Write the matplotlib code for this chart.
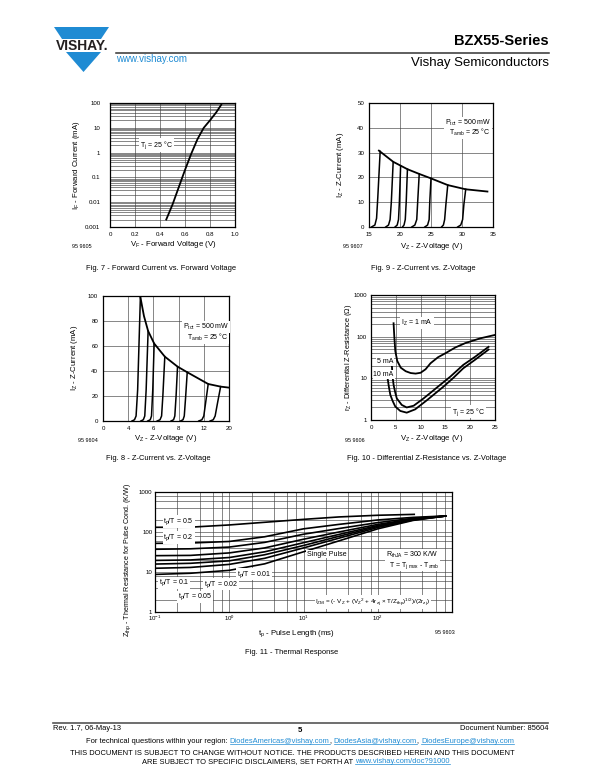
import numpy as np
import matplotlib.pyplot as plt
from matplotlib.ticker import LogLocator, NullFormatter
from matplotlib.patches import Polygon

plt.rcParams['font.family'] = ['Liberation Sans', 'DejaVu Sans']
plt.rcParams['mathtext.fontset'] = 'custom'
plt.rcParams['mathtext.rm'] = 'Liberation Sans'
plt.rcParams['mathtext.it'] = 'Liberation Sans:italic'
plt.rcParams['mathtext.bf'] = 'Liberation Sans:bold'

W, H = 600, 777
BLUE = '#1f8bd3'
TICK_FS = 4.4
LABEL_FS = 5.6
CAP_FS = 5.4

# ---------------- data ----------------
# Fig. 7 - forward current vs forward voltage
fwd_v = [0.45, 0.50, 0.55, 0.60, 0.65, 0.70, 0.75, 0.80, 0.85, 0.89]
fwd_i = [0.002, 0.008, 0.04, 0.2, 0.9, 3.5, 10, 20, 42, 85]

# Fig. 9 - Z-current vs Z-voltage (15 V .. 35 V)
z9_v = [
    [15.4, 15.95, 16.22, 16.42, 16.8],
    [17.7, 18.15, 18.4, 18.6, 18.9],
    [19.2, 19.55, 19.76, 19.9, 20.1],
    [20.4, 20.65, 20.85, 21.0, 21.2],
    [21.9, 22.4, 22.7, 22.85, 23.1],
    [24.0, 24.45, 24.7, 24.8, 25.0],
    [26.7, 27.0, 27.2, 27.4, 27.7],
    [29.3, 29.8, 30.1, 30.3, 30.6],
]
z9_i = [
    [0, 0.8, 3.5, 12, 30.5],
    [0, 0.8, 3, 10, 26.3],
    [0, 0.8, 3, 10, 24.6],
    [0, 0.8, 3, 10, 23.3],
    [0, 0.8, 3, 10, 21.4],
    [0, 0.8, 3, 10, 19.6],
    [0, 0.8, 3, 9, 16.9],
    [0, 0.8, 3, 9, 15.2],
]
z9_env_v = [16.6, 18.9, 21.2, 23.1, 25.0, 27.7, 30.6, 34.1]
z9_env_i = [30.8, 26.3, 23.3, 21.4, 19.6, 16.9, 15.2, 14.3]

# Fig. 8 - Z-current vs Z-voltage (0 .. 20 V scale)
z8_v = [
    [4.6, 5.0, 5.25, 5.5, 5.94],
    [6.0, 6.4, 6.63, 6.85, 7.16],
    [7.1, 7.5, 7.7, 7.9, 8.12],
    [8.6, 9.05, 9.3, 9.5, 9.81],
    [10.8, 11.2, 11.4, 11.6, 11.83],
    [12.3, 12.7, 12.9, 13.1, 13.37],
    [15.2, 15.7, 16.0, 16.3, 16.7],
    [17.0, 17.5, 17.8, 18.2, 18.67],
]
z8_i = [
    [0, 1, 4, 25, 100],
    [0, 1, 4, 25, 72],
    [0, 1, 4, 25, 62],
    [0, 1, 4, 20, 51.5],
    [0, 1, 4, 20, 43.5],
    [0, 1, 4, 18, 39],
    [0, 1, 4, 15, 29.6],
    [0, 1, 4, 15, 27.5],
]
z8_env_v = [5.9, 6.5, 7.16, 8.12, 9.81, 11.83, 13.37, 16.7, 18.67, 20.0]
z8_env_i = [100, 84, 72, 62, 51.5, 43.5, 39, 29.6, 27.5, 26.7]
z8_tick_labels = ['0', '4', '6', '8', '12', '20']

# Fig. 10 - differential Z-resistance vs Z-voltage
rz1_v = [4.55, 4.7, 4.9, 5.3, 6.0, 7.0, 8.0, 9.0, 10.0, 11.0, 12.0, 13.5, 15.0, 17.0, 19.0, 22.0, 25.0]
rz1_r = [210, 100, 45, 26, 18, 14.8, 13.4, 13.0, 13.6, 16.5, 23, 32, 40, 55, 70, 91, 110]
rz5_v = [4.2, 4.35, 4.56, 4.9, 5.2, 6.2, 7.2, 8.6, 10.6, 12.0, 13.9, 16.0, 18.6, 21.0, 23.7]
rz5_r = [21, 11, 6.9, 4.5, 3.3, 2.3, 2.0, 2.2, 3.3, 4.5, 6.9, 11, 21, 33, 57]
rz10_v = [3.35, 3.6, 3.9, 4.4, 4.9, 5.9, 7.2, 8.9, 11.3, 14.6, 16.5, 18.6, 21.0, 23.7]
rz10_r = [10, 6.3, 4.0, 2.8, 2.1, 1.65, 1.5, 1.8, 3.0, 6.3, 10, 17.4, 28, 49]

# Fig. 11 - thermal response
zth_t = [0.1, 0.3, 1, 3, 10, 30, 100, 300, 820]
zth_05_t = [0.1, 0.3, 1, 3, 10, 30, 100, 310]
zth_05 = [131, 132, 150, 175, 207, 238, 262, 276]
zth_curves = [
    [52, 53, 58, 76, 120, 155, 200, 232, 252],
    [37, 38, 42, 55, 88, 122, 172, 220, 251],
    [25.6, 26, 30, 40, 66, 100, 155, 212, 251],
    [19.5, 20, 23, 32, 54, 87, 145, 207, 251],
    [15.8, 16.5, 19, 27, 46, 78, 138, 204, 251],
    [12.4, 13, 15.5, 22, 40, 70, 130, 200, 251],
    [8.7, 9.3, 11, 16, 32, 60, 120, 195, 251],
]

fig = plt.figure(figsize=(W / 100, H / 100), dpi=100)

# page layer in pixel coordinates (y down)
pg = fig.add_axes([0, 0, 1, 1])
pg.set_xlim(0, W)
pg.set_ylim(H, 0)
pg.axis('off')


def box(x0, y0, x1, y1):
    ax = fig.add_axes([x0 / W, 1 - y1 / H, (x1 - x0) / W, (y1 - y0) / H])
    for sp in ax.spines.values():
        sp.set_linewidth(0.9)
    ax.tick_params(which='both', length=0, labelsize=TICK_FS, pad=3.5)
    return ax


def grid(ax):
    ax.grid(True, which='both', color='#444444', lw=0.45)
    ax.set_axisbelow(True)


def note(ax, x, y, s, ha='left', size=LABEL_FS - 0.6):
    ax.text(x, y, s, fontsize=size, ha=ha, va='center', zorder=5,
            bbox=dict(facecolor='white', edgecolor='none', pad=0.6))


def ptxt(x, y, s, size, **kw):
    return pg.text(x, y, s, fontsize=size, **kw)


# ---------------- header ----------------
pg.add_patch(Polygon([(54, 27), (109, 27), (101, 39), (62, 39)], closed=True, color=BLUE, lw=0))
pg.add_patch(Polygon([(66, 52), (101, 52), (83.5, 72)], closed=True, color=BLUE, lw=0))
ptxt(82.5, 46, 'VISHAY.', 10, weight='bold', ha='center', va='center', color='#231f20')
pg.plot([116, 549], [52.5, 52.5], color='#333333', lw=1.1)
ptxt(116, 58.5, 'www.vishay.com', 7, color=BLUE, ha='left', va='center')
ptxt(549, 41, 'BZX55-Series', 10.5, weight='bold', ha='right', va='center')
ptxt(549, 63, 'Vishay Semiconductors', 9.5, ha='right', va='center')

# ---------------- Fig. 7 ----------------
ax = box(110, 103, 235, 227)
ax.set_yscale('log')
ax.plot(fwd_v, fwd_i, color='black', lw=1.3)
ax.set_xlim(0, 1.0)
ax.set_ylim(0.001, 100)
ax.set_xticks([0, 0.2, 0.4, 0.6, 0.8, 1.0])
ax.set_xticklabels(['0', '0.2', '0.4', '0.6', '0.8', '1.0'])
ax.set_yticks([0.001, 0.01, 0.1, 1, 10, 100])
ax.set_yticklabels(['0.001', '0.01', '0.1', '1', '10', '100'])
ax.yaxis.set_minor_locator(LogLocator(base=10, subs=np.arange(2, 10)))
ax.yaxis.set_minor_formatter(NullFormatter())
ax.tick_params(axis='y', pad=7)
grid(ax)
note(ax, 0.37, 2.0, r'T$_\mathregular{j}$ = 25 °C', ha='center')
ptxt(77, 165, r'I$_\mathregular{F}$ - Forward Current (mA)', LABEL_FS, rotation=90, ha='center', va='center')
ptxt(173, 245, r'V$_\mathregular{F}$ - Forward Voltage (V)', LABEL_FS, ha='center', va='center')
ptxt(82, 246, '95 9605', 4, ha='center', va='center')
ptxt(161, 268, 'Fig. 7 - Forward Current vs. Forward Voltage', CAP_FS, ha='center', va='center')

# ---------------- Fig. 9 ----------------
ax = box(369, 103, 493, 227)
for v, i in zip(z9_v, z9_i):
    ax.plot(v, i, color='black', lw=1.1)
ax.plot(z9_env_v, z9_env_i, color='black', lw=1.3)
ax.set_xlim(15, 35)
ax.set_ylim(0, 50)
ax.set_xticks([15, 20, 25, 30, 35])
ax.set_yticks([0, 10, 20, 30, 40, 50])
grid(ax)
note(ax, 27.3, 42, r'P$_\mathregular{tot}$ = 500 mW')
note(ax, 27.9, 38, r'T$_\mathregular{amb}$ = 25 °C')
ptxt(340, 165, r'I$_\mathregular{Z}$ - Z-Current (mA)', LABEL_FS, rotation=90, ha='center', va='center')
ptxt(432, 246, r'V$_\mathregular{Z}$ - Z-Voltage (V)', LABEL_FS, ha='center', va='center')
ptxt(353, 246, '95 9607', 4, ha='center', va='center')
ptxt(423, 268, 'Fig. 9 - Z-Current vs. Z-Voltage', CAP_FS, ha='center', va='center')

# ---------------- Fig. 8 ----------------
ax = box(103, 296, 229, 421)
for v, i in zip(z8_v, z8_i):
    ax.plot(v, i, color='black', lw=1.1)
ax.plot(z8_env_v, z8_env_i, color='black', lw=1.3)
ax.set_xlim(0, 20)
ax.set_ylim(0, 100)
ax.set_xticks([0, 4, 8, 12, 16, 20])
ax.set_xticklabels(z8_tick_labels)
ax.set_yticks([0, 20, 40, 60, 80, 100])
grid(ax)
note(ax, 12.7, 75, r'P$_\mathregular{tot}$ = 500 mW')
note(ax, 13.3, 67, r'T$_\mathregular{amb}$ = 25 °C')
ptxt(75, 358, r'I$_\mathregular{Z}$ - Z-Current (mA)', LABEL_FS, rotation=90, ha='center', va='center')
ptxt(166, 439, r'V$_\mathregular{Z}$ - Z-Voltage (V)', LABEL_FS, ha='center', va='center')
ptxt(88, 440, '95 9604', 4, ha='center', va='center')
ptxt(158, 459, 'Fig. 8 - Z-Current vs. Z-Voltage', CAP_FS, ha='center', va='center')

# ---------------- Fig. 10 ----------------
ax = box(371, 295, 495, 420)
ax.set_yscale('log')
ax.plot(rz1_v, rz1_r, color='black', lw=1.3)
ax.plot(rz5_v, rz5_r, color='black', lw=1.3)
ax.plot(rz10_v, rz10_r, color='black', lw=1.3)
ax.set_xlim(0, 25)
ax.set_ylim(1, 1000)
ax.set_xticks([0, 5, 10, 15, 20, 25])
ax.set_yticks([1, 10, 100, 1000])
ax.set_yticklabels(['1', '10', '100', '1000'])
ax.yaxis.set_minor_locator(LogLocator(base=10, subs=np.arange(2, 10)))
ax.yaxis.set_minor_formatter(NullFormatter())
ax.tick_params(axis='y', pad=3)
grid(ax)
note(ax, 6.1, 209, r'I$_\mathregular{Z}$ = 1 mA')
note(ax, 1.2, 25, '5 mA')
note(ax, 0.5, 12.5, '10 mA')
note(ax, 16.3, 1.58, r'T$_\mathregular{j}$ = 25 °C')
ptxt(349, 357, r'r$_\mathregular{Z}$ - Differential Z-Resistance (Ω)', 5.3, rotation=90, ha='center', va='center')
ptxt(432, 439, r'V$_\mathregular{Z}$ - Z-Voltage (V)', LABEL_FS, ha='center', va='center')
ptxt(355, 440, '95 9606', 4, ha='center', va='center')
ptxt(427, 459, 'Fig. 10 - Differential Z-Resistance vs. Z-Voltage', CAP_FS, ha='center', va='center')

# ---------------- Fig. 11 ----------------
ax = box(155, 492, 452, 612)
ax.set_xscale('log')
ax.set_yscale('log')
ax.plot(zth_05_t, zth_05, color='black', lw=1.2)
for z in zth_curves:
    ax.plot(zth_t, z, color='black', lw=1.2)
ax.set_xlim(0.1, 1000)
ax.set_ylim(1, 1000)
ax.set_xticks([0.1, 1, 10, 100])
ax.set_xticklabels([r'$10^{-1}$', r'$10^{0}$', r'$10^{1}$', r'$10^{2}$'])
ax.set_yticks([1, 10, 100, 1000])
ax.set_yticklabels(['1', '10', '100', '1000'])
for a in (ax.xaxis, ax.yaxis):
    a.set_minor_locator(LogLocator(base=10, subs=[2, 4, 6, 8]))
    a.set_minor_formatter(NullFormatter())
ax.tick_params(axis='x', pad=1.5)
ax.tick_params(axis='y', pad=2)
grid(ax)
tp = r'$\mathregular{t_p}$/T = '
note(ax, 0.13, 181, tp + '0.5')
note(ax, 0.13, 72, tp + '0.2')
note(ax, 0.113, 5.35, tp + '0.1')
note(ax, 0.205, 2.38, tp + '0.05')
note(ax, 0.45, 4.95, tp + '0.02')
note(ax, 1.26, 8.8, tp + '0.01')
note(ax, 11.0, 28, 'Single Pulse')
note(ax, 130, 26.4, r'R$_\mathregular{thJA}$ = 300 K/W')
note(ax, 140, 14.8, r'T = T$_\mathregular{j\ max}$ - T$_\mathregular{amb}$')
note(ax, 14.5, 1.78,
     r'I$_\mathregular{ZM}$ = (- V$_\mathregular{Z}$ + (V$_\mathregular{Z}$$^\mathregular{2}$ + 4r$_\mathregular{zj}$'
     r' × T/Z$_\mathregular{thp}$)$^\mathregular{1/2}$)/(2r$_\mathregular{zj}$)', size=4.6)
ptxt(128, 560, r'Z$_\mathregular{thp}$ - Thermal Resistance for Pulse Cond. (K/W)', 5.1, rotation=90, ha='center', va='center')
ptxt(296, 634, r't$_\mathregular{p}$ - Pulse Length (ms)', LABEL_FS, ha='center', va='center')
ptxt(445, 632, '95 9603', 4, ha='center', va='center')
ptxt(292, 652, 'Fig. 11 - Thermal Response', CAP_FS, ha='center', va='center')

# ---------------- footer ----------------
pg.plot([53, 548], [723, 723], color='#555555', lw=1.2)
ptxt(53, 729, 'Rev. 1.7, 06-May-13', 5.4, ha='left', va='center')
ptxt(300, 730.5, '5', 5.6, weight='bold', ha='center', va='center')
ptxt(548, 729, 'Document Number: 85604', 5.4, ha='right', va='center')

renderer = fig.canvas.get_renderer()


def run_line(pieces, y, size, cx):
    objs = [ptxt(0, y, s, size, color=c, ha='left', va='baseline') for s, c, _ in pieces]
    widths = [t.get_window_extent(renderer).width for t in objs]
    x = cx - sum(widths) / 2
    for t, w, (s, c, ul) in zip(objs, widths, pieces):
        t.set_x(x)
        if ul:
            pg.plot([x, x + w], [y + 1.1, y + 1.1], color=c, lw=0.5)
        x += w


run_line([('For technical questions within your region: ', 'black', False),
          ('DiodesAmericas@vishay.com', BLUE, True), (', ', 'black', False),
          ('DiodesAsia@vishay.com', BLUE, True), (', ', 'black', False),
          ('DiodesEurope@vishay.com', BLUE, True)], 743, 5.4, 300)
run_line([('THIS DOCUMENT IS SUBJECT TO CHANGE WITHOUT NOTICE. THE PRODUCTS DESCRIBED HEREIN AND THIS DOCUMENT',
           'black', False)], 755, 5.4, 292)
run_line([('ARE SUBJECT TO SPECIFIC DISCLAIMERS, SET FORTH AT ', 'black', False),
          ('www.vishay.com/doc?91000', BLUE, True)], 763, 5.4, 296)

fig.savefig('out.png', dpi=100)
